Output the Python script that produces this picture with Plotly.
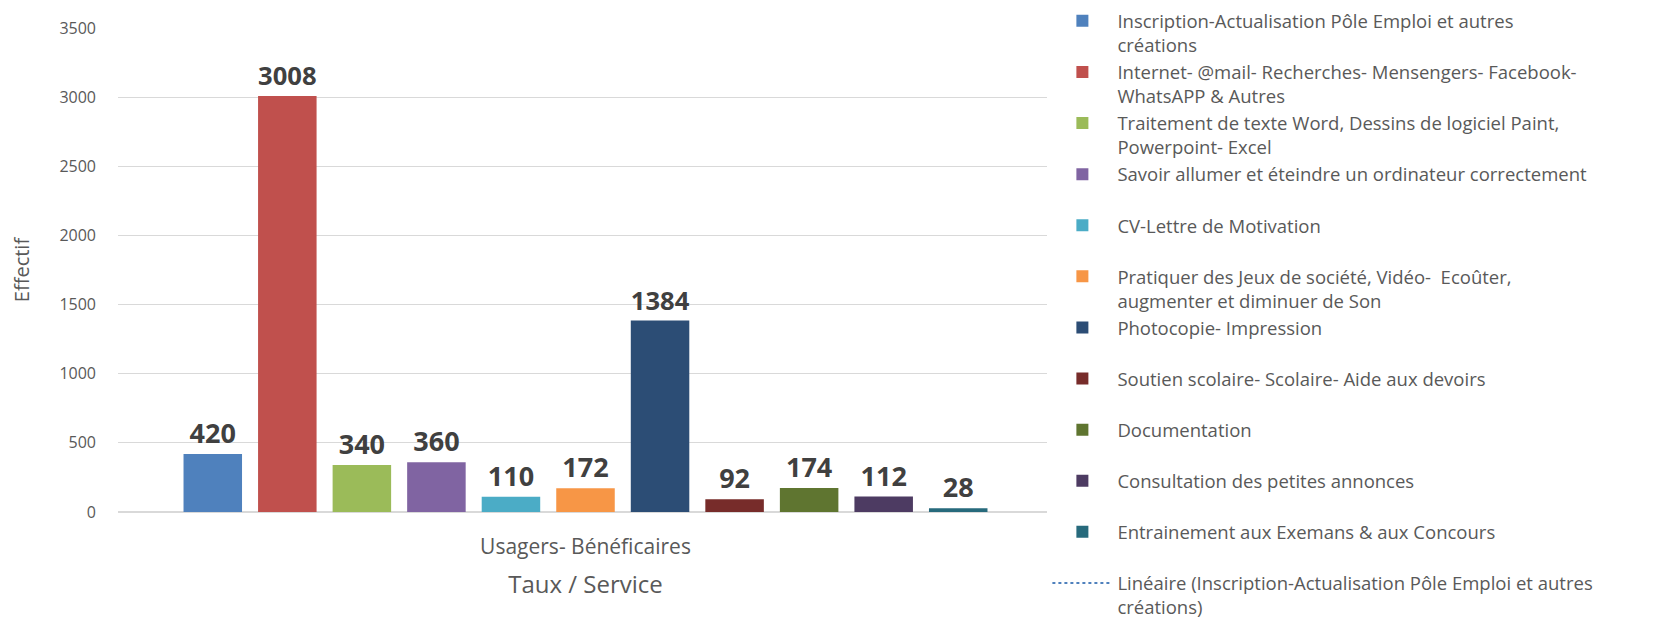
import plotly.graph_objects as go

# categorie unique sur l'axe x
categorie = ["Usagers- Bénéficaires"]

services = [
    "Inscription-Actualisation Pôle Emploi et autres<br>créations",
    "Internet- @mail- Recherches- Mensengers- Facebook-<br>WhatsAPP & Autres",
    "Traitement de texte Word, Dessins de logiciel Paint,<br>Powerpoint- Excel",
    "Savoir allumer et éteindre un ordinateur correctement<br> ",
    "CV-Lettre de Motivation<br> ",
    "Pratiquer des Jeux de société, Vidéo-  Ecoûter,<br>augmenter et diminuer de Son",
    "Photocopie- Impression<br> ",
    "Soutien scolaire- Scolaire- Aide aux devoirs<br> ",
    "Documentation<br> ",
    "Consultation des petites annonces<br> ",
    "Entrainement aux Exemans & aux Concours<br> ",
]
effectifs = [420, 3008, 340, 360, 110, 172, 1384, 92, 174, 112, 28]
couleurs = ["#4F81BD", "#C0504D", "#9BBB59", "#8064A2", "#4BACC6", "#F79646",
            "#2C4D75", "#772C2A", "#5F7530", "#4D3B62", "#276A7C"]
tendance = "Linéaire (Inscription-Actualisation Pôle Emploi et autres<br>créations)"

police = "Open Sans"

fig = go.Figure()
for nom, val, coul in zip(services, effectifs, couleurs):
    fig.add_trace(go.Bar(
        x=categorie, y=[val], name=nom, marker_color=coul,
        # bordure transparente pour ecarter un peu les etiquettes
        marker_line=dict(width=20, color="rgba(0,0,0,0)"),
        text=[val], textposition="outside", cliponaxis=False,
        textfont=dict(family=police, size=27, color="#404040"),
        texttemplate="<b>%{text}</b>",
    ))

# courbe de tendance lineaire (un seul point -> invisible, sauf legende)
fig.add_trace(go.Scatter(
    x=categorie, y=[effectifs[0]], name=tendance, mode="lines",
    line=dict(color="#4F81BD", dash="dot", width=2),
))

# la page ajoute une marge de 8px autour du graphique
fig.update_layout(
    width=1655, height=618,
    paper_bgcolor="white", plot_bgcolor="white",
    margin=dict(l=110, r=610, t=20, b=114, autoexpand=False),
    barmode="group", bargap=0.123, bargroupgap=0.215,
    font=dict(family=police, color="#595959"),
    legend=dict(
        x=0.994, y=1.053, xanchor="left", yanchor="top",
        font=dict(family=police, size=18.5, color="#595959"),
        valign="top", tracegroupgap=0, itemwidth=60, maxheight=800,
    ),
    xaxis=dict(
        title=dict(text="Taux / Service", font=dict(size=24, color="#595959"), standoff=16),
        tickfont=dict(size=21, color="#595959"),
        ticklabelstandoff=16,
        showline=True, linecolor="#d9d9d9",
    ),
    yaxis=dict(
        title=dict(text="Effectif", font=dict(size=20, color="#595959"), standoff=25),
        range=[0, 3500], dtick=500,
        tickfont=dict(size=16, color="#595959"),
        ticklabelstandoff=21,
        gridcolor="#d9d9d9", zeroline=True, zerolinecolor="#d9d9d9",
        ticks="", ticklen=0,
    ),
)

fig.write_html("out.html")
